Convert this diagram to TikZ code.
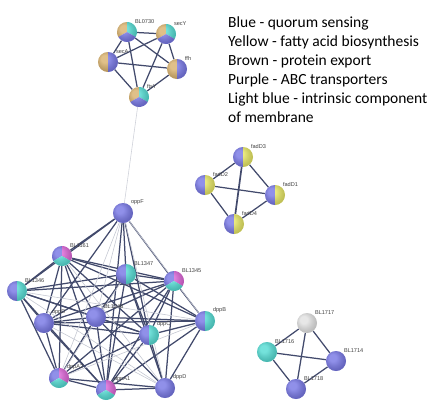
\documentclass[tikz,border=0pt]{standalone}
\usepackage{fontspec}
\setmainfont{Carlito}
\newfontfamily\lblfont{Liberation Sans}
\usetikzlibrary{shadings}

\definecolor{qblue}{RGB}{96,96,224}
\definecolor{qcyan}{RGB}{56,214,204}
\definecolor{qtan}{RGB}{212,166,86}
\definecolor{qyellow}{RGB}{226,226,74}
\definecolor{qpink}{RGB}{214,76,208}
\definecolor{qgrey}{RGB}{222,222,222}
\definecolor{edge}{RGB}{66,74,108}

\tikzset{
  prot/.style={circle, minimum size=20pt, inner sep=0pt},
  lbl/.style={font=\lblfont\fontsize{5.6}{6}\selectfont, text=black!75, inner sep=0.6pt, anchor=south west},
  link/.style={draw=edge, line width=1.25pt},
  weak/.style={draw=edge!30, line width=0.6pt},
}

% ball colourings
\newcommand{\gloss}[1]{\shade[ball color=white, opacity=.3] (#1.center) circle (10pt);}
\newcommand{\whole}[2]{\fill[#2] (#1.center) circle (10pt); \gloss{#1}}
\newcommand{\halves}[3]{%
  \fill[#2] (#1.center) -- ++(90:10pt) arc (90:270:10pt) -- cycle;
  \fill[#3] (#1.center) -- ++(-90:10pt) arc (-90:90:10pt) -- cycle;
  \gloss{#1}}
\newcommand{\thirds}[4]{%
  \fill[#2] (#1.center) -- ++(90:10pt) arc (90:210:10pt) -- cycle;
  \fill[#3] (#1.center) -- ++(-30:10pt) arc (-30:90:10pt) -- cycle;
  \fill[#4] (#1.center) -- ++(210:10pt) arc (210:330:10pt) -- cycle;
  \gloss{#1}}

\begin{document}
\begin{tikzpicture}[x=1pt, y=-1pt]
    \useasboundingbox (0,0) rectangle (447,416);

    % protein export
    \node[prot] (BL0730) at (127,32) {};
    \node[prot] (secY) at (166,34) {};
    \node[prot] (secA) at (108,62) {};
    \node[prot] (ffh) at (177,69) {};
    \node[prot] (ftsY) at (139,97) {};

    % fatty acids
    \node[prot] (fadD3) at (243,157) {};
    \node[prot] (fadD2) at (205,185) {};
    \node[prot] (fadD1) at (275,195) {};
    \node[prot] (fadD4) at (234,224) {};

    % transporters
    \node[prot] (oppF) at (123,213) {};
    \node[prot] (BL1161) at (62,256) {};
    \node[prot] (BL1347) at (126,274) {};
    \node[prot] (BL1345) at (174,281) {};
    \node[prot] (BL1346) at (17,291) {};
    \node[prot] (oppD) at (44,323) {};
    \node[prot] (BL1348) at (96,317) {};
    \node[prot] (dppC) at (149,335) {};
    \node[prot] (dppB) at (205,321) {};
    \node[prot] (dppA2) at (59,378) {};
    \node[prot] (dppA1) at (106,390) {};
    \node[prot] (dppD) at (165,388) {};

    % BL171x
    \node[prot] (BL1717) at (307,323) {};
    \node[prot] (BL1716) at (267,352) {};
    \node[prot] (BL1714) at (336,361) {};
    \node[prot] (BL1718) at (296,389) {};

    \foreach \a/\b in {BL0730/secY, BL0730/secA, BL0730/ffh, BL0730/ftsY,
        secY/secA, secY/ffh, secY/ftsY, secA/ffh, secA/ftsY, ffh/ftsY,
        fadD3/fadD2, fadD3/fadD1, fadD2/fadD1, fadD2/fadD4, fadD4/fadD1,
        BL1717/BL1716, BL1717/BL1714, BL1717/BL1718,
        BL1716/BL1714, BL1716/BL1718, BL1718/BL1714}
        \draw[link] (\a) -- (\b);
    \draw[link, line width=1.7pt] (fadD3) -- (fadD4);
    \draw[weak, draw=edge!25] (ftsY) -- (oppF);

    \foreach \a/\b in {oppF/BL1161, oppF/BL1347, oppF/BL1345, oppF/BL1346, oppF/oppD,
        oppF/dppC, oppF/dppA1,
        BL1161/BL1347, BL1161/BL1345, BL1161/BL1346, BL1161/oppD, BL1161/BL1348,
        BL1161/dppC, BL1161/dppB, BL1161/dppA2, BL1161/dppA1,
        BL1347/BL1345, BL1347/BL1346, BL1347/oppD, BL1347/BL1348, BL1347/dppC,
        BL1347/dppB, BL1347/dppA1, BL1347/dppD,
        BL1345/BL1346, BL1345/oppD, BL1345/BL1348, BL1345/dppC, BL1345/dppB,
        BL1345/dppA2, BL1345/dppA1, BL1345/dppD,
        BL1346/oppD, BL1346/BL1348, BL1346/dppC, BL1346/dppA2, BL1346/dppA1,
        oppD/BL1348, oppD/dppC, oppD/dppB, oppD/dppA2, oppD/dppA1,
        BL1348/dppC, BL1348/dppB, BL1348/dppA2, BL1348/dppA1, BL1348/dppD,
        dppC/dppB, dppC/dppA2, dppC/dppA1, dppC/dppD,
        dppB/dppA1, dppB/dppD, dppA2/dppA1, dppA2/dppD, dppA1/dppD}
        \draw[link] (\a) -- (\b);
    \foreach \a/\b in {oppF/BL1348, oppF/dppA2, oppF/dppB, oppF/dppD, BL1161/dppD,
        BL1347/dppA2, BL1346/dppB, BL1346/dppD, oppD/dppD, dppB/dppA2}
        \draw[weak] (\a) -- (\b);

    \thirds{BL0730}{qtan}{qcyan}{qblue}
    \thirds{secY}{qtan}{qcyan}{qblue}
    \halves{secA}{qtan}{qblue}
    \halves{ffh}{qtan}{qblue}
    \thirds{ftsY}{qtan}{qcyan}{qblue}

    \foreach \p in {fadD3, fadD2, fadD1, fadD4}
        {\halves{\p}{qblue}{qyellow}}

    \whole{oppF}{qblue}
    \thirds{BL1161}{qblue}{qpink}{qcyan}
    \halves{BL1347}{qblue}{qcyan}
    \thirds{BL1345}{qblue}{qpink}{qcyan}
    \halves{BL1346}{qblue}{qcyan}
    \whole{oppD}{qblue}
    \whole{BL1348}{qblue}
    \halves{dppC}{qblue}{qcyan}
    \halves{dppB}{qblue}{qcyan}
    \thirds{dppA2}{qblue}{qpink}{qcyan}
    \thirds{dppA1}{qblue}{qpink}{qcyan}
    \whole{dppD}{qblue}

    \whole{BL1717}{qgrey}
    \whole{BL1716}{qcyan}
    \whole{BL1714}{qblue}
    \whole{BL1718}{qblue}

    % names on top
    \foreach \p in {BL0730, secY, secA, ffh, ftsY, fadD3, fadD2, fadD1, fadD4,
        oppF, BL1161, BL1347, BL1345, BL1346, oppD, BL1348, dppC, dppB,
        dppA2, dppA1, dppD, BL1717, BL1716, BL1714, BL1718}
        \node[lbl] at (\p.north east) {\p};

    \node[anchor=north west, inner sep=0pt, align=left, font=\fontsize{15.5}{19}\selectfont] (legend) at (228,17)
        {Blue - quorum sensing\\Yellow - fatty acid biosynthesis\\Brown - protein export\\
         Purple - ABC transporters\\Light blue - intrinsic component\\of membrane};

\end{tikzpicture}
\end{document}
